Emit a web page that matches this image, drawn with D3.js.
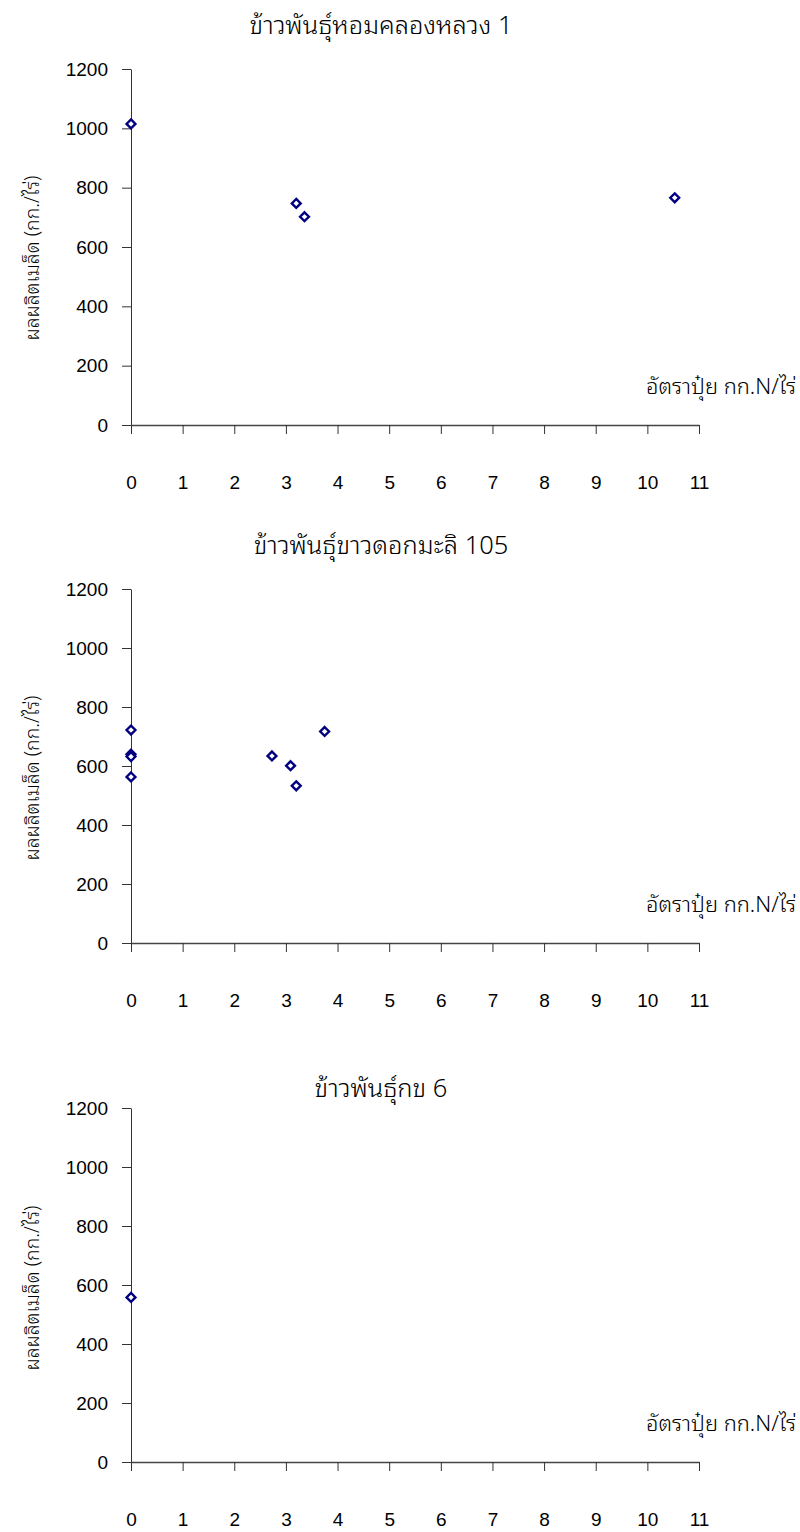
<!DOCTYPE html>
<html>
<head>
<meta charset="utf-8">
<script src="https://cdn.jsdelivr.net/npm/d3@7"></script>
<style>
  body { margin: 0; background: #fff; }
  svg { display: block; }
  text { font-family: "Liberation Sans", Arial, sans-serif; fill: #000; }
  .thai { font-family: "Noto Sans Thai Looped", "Loma", "Garuda", "Norasi", "Sarabun", "Liberation Sans", sans-serif; font-weight: 300; }
</style>
</head>
<body>
<div id="chart"></div>
<script>
// Rice yield vs nitrogen fertiliser rate, three varieties

const titles = ["ข้าวพันธุ์หอมคลองหลวง 1", "ข้าวพันธุ์ขาวดอกมะลิ 105", "ข้าวพันธุ์กข 6"];
const yLabel = "ผลผลิตเมล็ด (กก./ไร่)";
const xLabel = "อัตราปุ๋ย กก.N/ไร่";

const xTicks = [0, 1, 2, 3, 4, 5, 6, 7, 8, 9, 10, 11];
const yTicks = [0, 200, 400, 600, 800, 1000, 1200];

// N rate (kg/rai) and yield (kg/rai) per variety
const hklX = [0, 3.2, 3.36, 10.53];
const hklY = [1015, 747, 702, 766];

const kdmlX = [0, 0, 0, 0, 2.73, 3.09, 3.2, 3.75];
const kdmlY = [722, 640, 632, 563, 634, 601, 533, 717];

const rd6X = [0];
const rd6Y = [558];

const series = [
  { x: hklX, y: hklY },
  { x: kdmlX, y: kdmlY },
  { x: rd6X, y: rd6Y }
];

// panel layout
const W = 800, H = 1532;
const left = 131, right = 699;
const panels = [
  { top: 69, bottom: 425, titleY: 25, yLabY: 258 },
  { top: 589, bottom: 943, titleY: 545, yLabY: 778 },
  { top: 1108, bottom: 1462, titleY: 1088, yLabY: 1288 }
];

const svg = d3.select("#chart").append("svg")
  .attr("width", W)
  .attr("height", H);

const x = d3.scaleLinear().domain([0, 11]).range([left, right]);

// scale a text's font so that it spans about `len` pixels
function fitSize(sel, base, len) {
  const w = sel.node().getComputedTextLength();
  sel.attr("font-size", w > 0 ? base * len / w : base);
}

// font sizes measured once on the first panel's strings
const probe = svg.append("text").attr("class", "thai").attr("font-size", 20);
probe.text(titles[0]);
const titleSize = 20 * 263 / probe.node().getComputedTextLength();
probe.text(yLabel);
const yLabSize = 20 * 165 / probe.node().getComputedTextLength();
probe.text(xLabel);
const xLabSize = 20 * 150 / probe.node().getComputedTextLength();
probe.remove();

panels.forEach((p, i) => {
  const y = d3.scaleLinear().domain([0, 1200]).range([p.bottom, p.top]);
  const g = svg.append("g");

  // y axis
  const yAxis = g.append("g")
    .attr("transform", `translate(${left},0)`)
    .call(d3.axisLeft(y).tickValues(yTicks).tickFormat(d3.format("d"))
      .tickSize(9).tickPadding(14).tickSizeOuter(0));
  yAxis.select(".domain").attr("stroke", "#333");
  yAxis.selectAll(".tick line").attr("stroke", "#333");
  yAxis.selectAll("text").attr("font-size", 19).attr("fill", "#222");

  // x axis: ticks point down, labels well below
  const xAxis = g.append("g")
    .attr("transform", `translate(0,${p.bottom})`)
    .call(d3.axisBottom(x).tickValues(xTicks).tickFormat(d3.format("d"))
      .tickSize(9).tickSizeOuter(0));
  xAxis.select(".domain").attr("stroke", "#444").attr("stroke-width", 1.3);
  xAxis.selectAll(".tick line").attr("stroke", "#333");
  xAxis.selectAll("text").attr("font-size", 19).attr("fill", "#222");
  xAxis.selectAll(".tick text").attr("dy", "0.35em").attr("y", 57);

  // title
  g.append("text")
    .attr("class", "thai")
    .attr("x", 381)
    .attr("y", p.titleY)
    .attr("dy", "0.35em")
    .attr("text-anchor", "middle")
    .attr("font-size", titleSize)
    .text(titles[i]);

  // y label
  g.append("text")
    .attr("class", "thai")
    .attr("transform", `translate(32,${p.yLabY}) rotate(-90)`)
    .attr("dy", "0.35em")
    .attr("text-anchor", "middle")
    .attr("font-size", yLabSize)
    .text(yLabel);

  // x label (right side, above axis)
  g.append("text")
    .attr("class", "thai")
    .attr("x", 796)
    .attr("y", p.bottom - 39)
    .attr("dy", "0.35em")
    .attr("text-anchor", "end")
    .attr("font-size", xLabSize)
    .text(xLabel);

  // points: hollow navy diamonds
  const s = series[i];
  const sym = d3.symbol().type(d3.symbolDiamond2).size(50);
  g.append("g")
    .selectAll("path")
    .data(s.x.map((v, k) => [v, s.y[k]]))
    .join("path")
    .attr("transform", d => `translate(${x(d[0])},${y(d[1])})`)
    .attr("d", sym)
    .attr("fill", "#fff")
    .attr("stroke", "#000080")
    .attr("stroke-width", 2.4);
});
</script>
</body>
</html>
